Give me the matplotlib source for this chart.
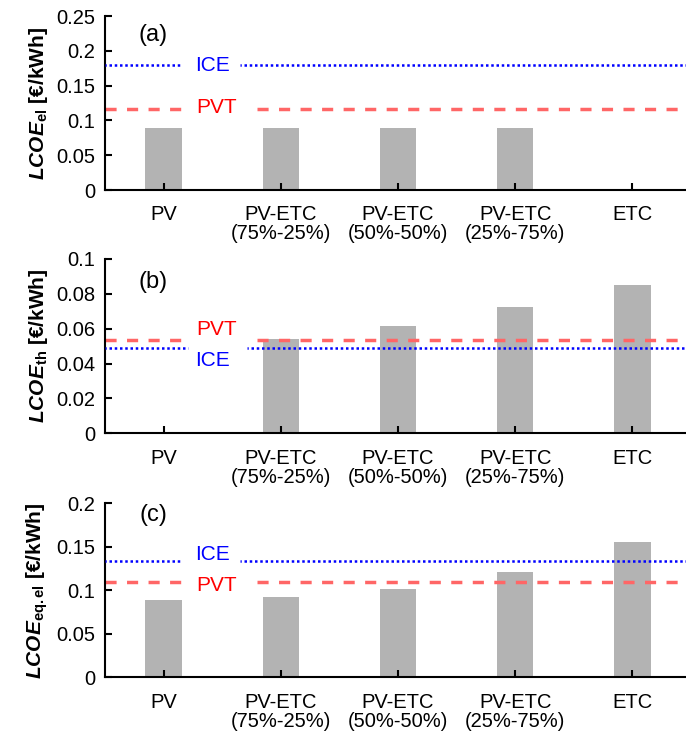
import numpy as np
import matplotlib
matplotlib.use('Agg')
import matplotlib.pyplot as plt
from matplotlib.ticker import FuncFormatter

plt.rcParams['font.family'] = 'Liberation Sans'
plt.rcParams['mathtext.fontset'] = 'custom'
plt.rcParams['mathtext.rm'] = 'Liberation Sans'
plt.rcParams['mathtext.it'] = 'Liberation Sans:italic'
plt.rcParams['mathtext.bf'] = 'Liberation Sans:bold'
plt.rcParams['mathtext.bfit'] = 'Liberation Sans:bold:italic'

# Data.
categories = ['PV', 'PV-ETC\n(75%-25%)', 'PV-ETC\n(50%-50%)', 'PV-ETC\n(25%-75%)', 'ETC']
lcoe_el = [0.089, 0.089, 0.089, 0.089, 0.0]
lcoe_th = [0.0, 0.0539, 0.0616, 0.0726, 0.0851]
lcoe_eq_el = [0.0889, 0.0923, 0.1015, 0.121, 0.1555]
ice_ref = [0.18, 0.0491, 0.134]
pvt_ref = [0.117, 0.0535, 0.109]
panel_tags = ['(a)', '(b)', '(c)']
ylabels = [r'$\mathbfit{LCOE}_{\mathbf{el}}$ [€/kWh]',
           r'$\mathbfit{LCOE}_{\mathbf{th}}$ [€/kWh]',
           r'$\mathbfit{LCOE}_{\mathbf{eq.el}}$ [€/kWh]']
ytops = [0.25, 0.1, 0.2]
ysteps = [0.05, 0.02, 0.05]

# Layout bits (axes positions, label spots, gaps in the reference lines).
positions = [[0.1531, 0.7425, 0.8542, 0.2358],
             [0.1531, 0.4129, 0.8542, 0.2362],
             [0.1531, 0.0823, 0.8542, 0.2358]]
ice_text_y = [0.1789, 0.042, 0.1411]
pvt_text_y = [0.1185, 0.0593, 0.1055]
tag_y = [0.89, 0.865, 0.933]
ice_gap = [(0.128, 0.230), (0.142, 0.242), (0.128, 0.230)]
pvt_gap = [(0.131, 0.259), (0.131, 0.259), (0.131, 0.259)]

bar_color = '#b3b3b3'
ice_color = '#0000ff'
pvt_color = '#ff6666'

fig = plt.figure(figsize=(6.86, 7.38), dpi=100)
x = np.arange(1, len(categories) + 1)

for i, values in enumerate([lcoe_el, lcoe_th, lcoe_eq_el]):
    ax = fig.add_axes(positions[i])
    ax.bar(x, values, width=0.31, color=bar_color, zorder=1)

    # reference lines, split where the text label sits
    for lo, hi in [(0, ice_gap[i][0]), (ice_gap[i][1], 1)]:
        ax.axhline(ice_ref[i], xmin=lo, xmax=hi, color=ice_color, lw=1.8,
                   linestyle=(0.5, (1, 1.1)), zorder=3)
    for lo, hi in [(0, pvt_gap[i][0]), (pvt_gap[i][1], 1)]:
        ax.axhline(pvt_ref[i], xmin=lo, xmax=hi, color=pvt_color, lw=2.5,
                   linestyle=(0, (3.2, 3.0)), zorder=2)
    ax.text(1.42, ice_text_y[i], 'ICE', color=ice_color, fontsize=15,
            ha='center', va='center')
    ax.text(1.45, pvt_text_y[i], 'PVT', color='red', fontsize=15,
            ha='center', va='center')
    ax.text(0.082, tag_y[i], panel_tags[i], transform=ax.transAxes,
            fontsize=17, ha='center', va='center')

    ax.set_xlim(0.5, 5.5)
    ax.set_ylim(0, ytops[i])
    ax.set_yticks(np.arange(0, ytops[i] + ysteps[i] / 2, ysteps[i]))
    ax.yaxis.set_major_formatter(FuncFormatter(lambda v, p: '%g' % round(v, 3)))
    ax.set_xticks(x)
    ax.set_xticklabels(categories, linespacing=1.0)

    ax.spines['top'].set_visible(False)
    ax.spines['right'].set_visible(False)
    ax.spines['left'].set_linewidth(1.5)
    ax.spines['bottom'].set_linewidth(1.5)
    ax.tick_params(direction='in', length=5, width=1.5, labelsize=14.5)
    ax.tick_params(axis='x', pad=11)
    ax.tick_params(axis='y', pad=7)

    ax.set_ylabel(ylabels[i], fontsize=15, fontweight='bold')
    ax.yaxis.set_label_coords(-0.094, 0.5)

fig.savefig('out.png', dpi=100)
